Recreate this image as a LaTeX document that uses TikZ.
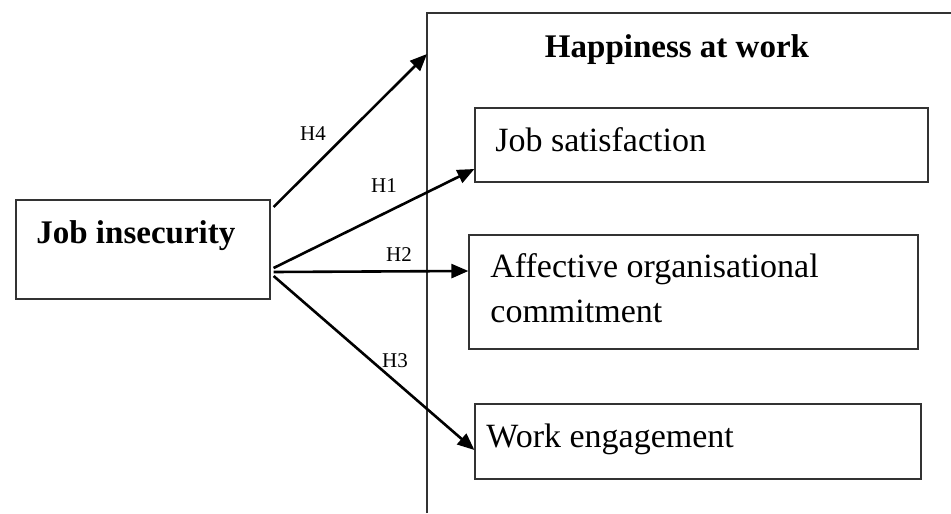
\documentclass[tikz,border=0pt]{standalone}
\usepackage{fontspec}
\setmainfont{Liberation Serif}
\usepackage{tikz}
\usetikzlibrary{positioning,calc,arrows.meta}

\tikzset{
    boxnode/.style={draw=black!80, line width=0.6pt, rectangle, inner sep=0pt},
    hyparrow/.style={line width=1.3pt, -{Triangle[length=8.5pt,width=7pt]}},
    hlabel/.style={font=\fontsize{10.5}{12}\selectfont},
    boxtext/.style={anchor=base west, inner sep=0pt, align=left, font=\fontsize{17}{22.5}\selectfont}
}

\begin{document}
\begin{tikzpicture}[x=0.5pt, y=-0.5pt]
    \useasboundingbox (0,0) rectangle (951,513);

    % outer frame (cut at right and bottom)
    \draw[black!80, line width=0.6pt] (427,513) -- (427,13) -- (951,13);
    \node[font=\fontsize{16.5}{20}\selectfont\bfseries, anchor=base] (hw) at (677,58) {Happiness at work};
    \coordinate (hwin) at (427,54);

    % boxes
    \node[boxnode, minimum width=127pt, minimum height=49.5pt] (ji) at (143,249.5) {};
    \node[boxnode, minimum width=226.5pt, minimum height=37pt] (js) at (701.5,145) {};
    \node[boxnode, minimum width=224.5pt, minimum height=57pt] (ac) at (693.5,292) {};
    \node[boxnode, minimum width=223pt, minimum height=37.5pt] (we) at (698,441.5) {};

    % texts
    \node[boxtext, font=\fontsize{16.5}{20}\selectfont\bfseries] (jit) at (36,243) {Job insecurity};
    \node[boxtext] (jst) at (495,152) {Job satisfaction};
    \node[boxtext] (act) at (490,322) {Affective organisational\\commitment};
    \node[boxtext] (wet) at (486,447) {Work engagement};

    % hypotheses
    \draw[hyparrow] ($(ji.east)+(3,-42.5)$) -- (hwin);
    \draw[hyparrow] ($(ji.east)+(3,18.5)$) -- ($(js.west)+(0,24)$);
    \draw[hyparrow] ($(ji.east)+(3,22.5)$) -- ($(ac.west)+(0,-21)$);
    \draw[hyparrow] ($(ji.east)+(3,26.5)$) -- ($(we.west)+(0,8.5)$);

    \node[hlabel] (h4) at (313,134) {H4};
    \node[hlabel] (h1) at (384,186) {H1};
    \node[hlabel] (h2) at (399,255) {H2};
    \node[hlabel] (h3) at (395,361) {H3};
\end{tikzpicture}
\end{document}
